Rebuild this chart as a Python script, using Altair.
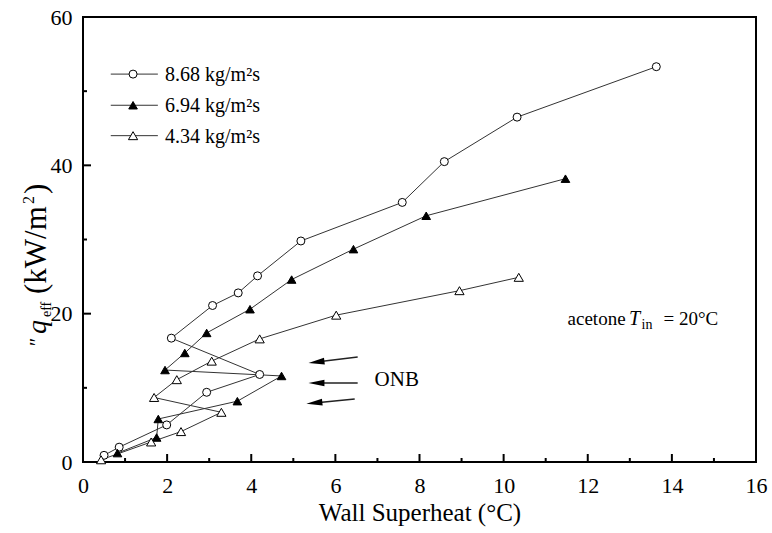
import altair as alt
import pandas as pd

FONT = "Liberation Serif"

# ---------------- data ----------------
series_names = ["8.68 kg/m²s", "6.94 kg/m²s", "4.34 kg/m²s"]

x_868 = [0.50, 0.86, 1.99, 2.94, 4.20, 2.10, 3.08, 3.69, 4.15, 5.18, 7.59, 8.59, 10.32, 13.63]
y_868 = [0.9, 2.0, 5.0, 9.4, 11.8, 16.7, 21.1, 22.8, 25.1, 29.8, 35.0, 40.5, 46.5, 53.3]

x_694 = [0.82, 1.75, 1.79, 3.67, 4.72, 1.95, 2.42, 2.94, 3.97, 4.96, 6.43, 8.16, 11.47]
y_694 = [1.2, 3.3, 5.8, 8.2, 11.6, 12.4, 14.7, 17.4, 20.6, 24.6, 28.7, 33.2, 38.2]

x_434 = [0.43, 1.62, 2.33, 3.29, 1.69, 2.23, 3.06, 4.20, 6.02, 8.95, 10.36]
y_434 = [0.3, 2.7, 4.1, 6.7, 8.7, 11.1, 13.6, 16.6, 19.8, 23.1, 24.9]

x_major = [0, 2, 4, 6, 8, 10, 12, 14, 16]
x_minor = [1, 3, 5, 7, 9, 11, 13, 15]
y_major = [0, 20, 40, 60]
y_minor = [10, 30, 50]

# legend (data coordinates)
leg_y = [52.3, 48.1, 44.0]
leg_x0, leg_x1, leg_xm, leg_xt = 0.66, 1.78, 1.19, 1.95

# ONB arrows: tail and arrow-head centre, head angle
arr_x0 = [6.53, 6.53, 6.46]
arr_y0 = [14.16, 10.65, 8.49]
arr_x1 = [5.55, 5.55, 5.50]
arr_y1 = [13.48, 10.65, 7.95]
arr_ang = [353, 0, 354]

onb_x, onb_y = 7.46, 11.05

# ---------------- frames ----------------
rows = []
for name, xs, ys in zip(series_names, [x_868, x_694, x_434], [y_868, y_694, y_434]):
    for i, (a, b) in enumerate(zip(xs, ys)):
        rows.append({"series": name, "order": i, "x": a, "y": b})
df = pd.DataFrame(rows)

leg_df = pd.DataFrame({"series": series_names, "y": leg_y,
                       "x0": [leg_x0] * 3, "x1": [leg_x1] * 3,
                       "xm": [leg_xm] * 3, "xt": [leg_xt] * 3})
arr_df = pd.DataFrame({"x0": arr_x0, "y0": arr_y0, "x1": arr_x1, "y1": arr_y1, "ang": arr_ang})

W, H = 673, 445

xscale = alt.Scale(domain=[0, 16], nice=False, zero=False)
yscale = alt.Scale(domain=[0, 60], nice=False, zero=False)

xaxis = alt.Axis(values=x_major, title="Wall Superheat (°C)", grid=False, ticks=False,
                 domain=False, labelFlush=False, labelOverlap=False,
                 labelFont=FONT, labelFontSize=22, labelColor="black", labelPadding=13,
                 titleFont=FONT, titleFontSize=25, titleFontWeight="normal",
                 titleColor="black", titlePadding=4)
yaxis = alt.Axis(values=y_major, title=None, grid=False, ticks=False, domain=False,
                 labelFlush=False, labelOverlap=False,
                 labelFont=FONT, labelFontSize=22, labelColor="black", labelPadding=11)

shape_enc = alt.Shape("series:N", scale=alt.Scale(domain=series_names,
                      range=["circle", "triangle-up", "triangle-up"]), legend=None)
fill_enc = alt.Fill("series:N", scale=alt.Scale(domain=series_names,
                    range=["white", "black", "white"]), legend=None)
size_enc = alt.Size("series:N", scale=alt.Scale(domain=series_names,
                    range=[64, 85, 85]), legend=None)

X = alt.X("x:Q", scale=xscale, axis=xaxis)
Y = alt.Y("y:Q", scale=yscale, axis=yaxis)

lines = alt.Chart(df).mark_line(color="#333", strokeWidth=1).encode(
    x=X, y=Y, detail="series:N", order="order:Q")

points = alt.Chart(df).mark_point(filled=True, stroke="black", strokeWidth=1, opacity=1).encode(
    x="x:Q", y="y:Q", shape=shape_enc, fill=fill_enc, size=size_enc)

# legend
leg_lines = alt.Chart(leg_df).mark_rule(color="#333", strokeWidth=1).encode(
    x="x0:Q", x2="x1:Q", y="y:Q")
leg_pts = alt.Chart(leg_df).mark_point(filled=True, stroke="black", strokeWidth=1, opacity=1).encode(
    x="xm:Q", y="y:Q", shape=shape_enc, fill=fill_enc, size=size_enc)
leg_txt = alt.Chart(leg_df).mark_text(align="left", baseline="middle", font=FONT,
                                       fontSize=20, color="black", dy=1).encode(
    x="xt:Q", y="y:Q", text="series:N")

# inward ticks
xmaj = alt.Chart(pd.DataFrame({"x": x_major})).mark_rule(color="black", strokeWidth=2).encode(
    x="x:Q", y=alt.value(H), y2=alt.value(H - 8))
xmin = alt.Chart(pd.DataFrame({"x": x_minor})).mark_rule(color="black", strokeWidth=2).encode(
    x="x:Q", y=alt.value(H), y2=alt.value(H - 4))
ymaj = alt.Chart(pd.DataFrame({"y": y_major})).mark_rule(color="black", strokeWidth=2).encode(
    y="y:Q", x=alt.value(0), x2=alt.value(8))
ymin = alt.Chart(pd.DataFrame({"y": y_minor})).mark_rule(color="black", strokeWidth=2).encode(
    y="y:Q", x=alt.value(0), x2=alt.value(4))

# arrows
arr_lines = alt.Chart(arr_df).mark_rule(color="#222", strokeWidth=1.5).encode(
    x="x0:Q", y="y0:Q", x2="x1:Q", y2="y1:Q")
arr_heads = alt.Chart(arr_df).mark_point(shape="M -1 0 L 1 -0.42 L 1 0.42 Z", filled=True,
                                         color="black", size=256, opacity=1).encode(
    x="x1:Q", y="y1:Q", angle=alt.Angle("ang:Q", scale=None))

onb = alt.Chart(pd.DataFrame({"x": [onb_x], "y": [onb_y], "t": ["ONB"]})).mark_text(
    font=FONT, fontSize=21, color="black", align="center", baseline="middle").encode(
    x="x:Q", y="y:Q", text="t:N")

# acetone T_in = 20°C
ann_df = pd.DataFrame({
    "x": [11.52, 12.98, 13.28, 13.80],
    "y": [18.47, 18.47, 17.93, 18.47],
    "t": ["acetone", "T", "in", "= 20°C"],
})
ac1 = alt.Chart(ann_df.iloc[[0, 3]]).mark_text(font=FONT, fontSize=19, color="black",
                                               align="left", baseline="alphabetic").encode(
    x="x:Q", y="y:Q", text="t:N")
ac2 = alt.Chart(ann_df.iloc[[1]]).mark_text(font=FONT, fontSize=20, fontStyle="italic", color="black",
                                            align="left", baseline="alphabetic").encode(
    x="x:Q", y="y:Q", text="t:N")
ac3 = alt.Chart(ann_df.iloc[[2]]).mark_text(font=FONT, fontSize=14, color="black",
                                            align="left", baseline="alphabetic").encode(
    x="x:Q", y="y:Q", text="t:N")


# y-axis title pieces (pixel positions relative to plot origin)
def piece(txt, ax, ay, size, italic=False):
    return alt.Chart(alt.Data(values=[{}])).mark_text(
        text=txt, font=FONT, fontSize=size, fontStyle="italic" if italic else "normal",
        angle=270, align="left", baseline="alphabetic", color="black").encode(
        x=alt.value(ax - 83), y=alt.value(ay - 17))


ytitle = [
    piece("″", 44, 346, 20),
    piece("q", 46, 334, 28, italic=True),
    piece("eff", 51, 317, 14),
    piece("(kW/m", 46, 294, 31),
    piece("2", 34, 204, 16),
    piece(")", 46, 194, 31),
]

chart = alt.layer(
    lines, points, leg_lines, leg_pts, leg_txt,
    xmaj, xmin, ymaj, ymin, arr_lines, arr_heads, onb, ac1, ac2, ac3, *ytitle
).properties(
    width=W, height=H,
    autosize=alt.AutoSizeParams(type="none"),
    padding={"left": 83, "top": 17, "right": 16, "bottom": 71},
    background="white",
).configure_view(stroke="black", strokeWidth=2)

chart.save("out.html", embed_options={"renderer": "svg", "actions": False})
